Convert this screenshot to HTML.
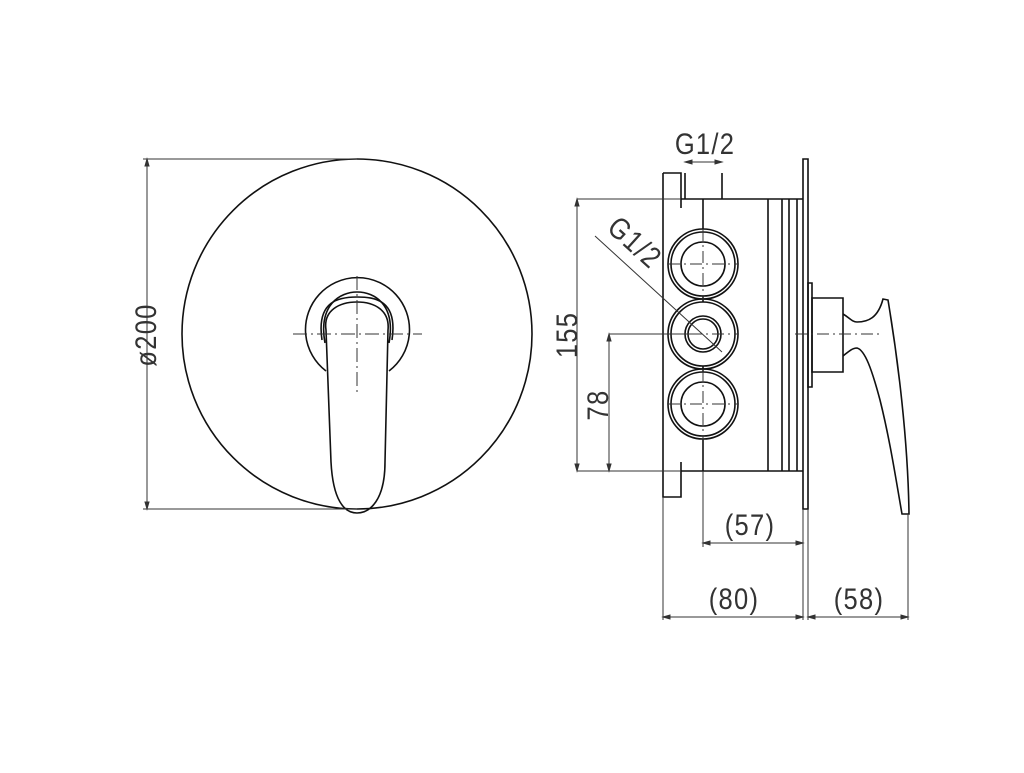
<!DOCTYPE html>
<html><head><style>html,body{margin:0;padding:0;background:#fff}</style></head><body>
<svg width="1024" height="768" viewBox="0 0 1024 768" xmlns="http://www.w3.org/2000/svg" font-family="'Liberation Sans', sans-serif" fill="none" stroke="#111">
<g stroke-width="1.6">
<circle cx="357" cy="334" r="175"/>
<path d="M326 371 A52 52 0 1 1 389 371"/>
<path d="M325 343 C318 305 340 292 357 292 C375 292 396 305 389 343"/>
<path d="M322 340 C316 300 340 297 357 297 C375 297 398 300 392 340"/>
<path d="M326 330 C323 310 340 302 357 302 C374 302 390 310 388 330 L385 462 C385 500 370 513 357 513 C344 513 333 500 331 462 Z"/>
</g>
<g stroke-width="1" stroke="#333">
<path d="M147 159 V509 M143 159 H357 M143 509 H357"/>
<path d="M147 159 l-2 7 h4 z M147 509 l-2 -7 h4 z" fill="#333"/>
<path d="M293 334 H422 M357 276 V396" stroke-dasharray="14 4 2 4"/>
</g>
<text x="0" y="0" transform="translate(156,335) rotate(-90) scale(0.85,1)" font-size="30" letter-spacing="1.5" text-anchor="middle" fill="#333" stroke="none">ø200</text>

<g stroke-width="1.6">
<path d="M663 173 H681 V208 M681 462 V497 H663 V173"/>
<path d="M681 199 H803 M681 471 H803 M685 199 V173 M722 199 V173"/>
<path d="M768 199 V471 M782 199 V471 M789 199 V471 M797 199 V471"/>
<path d="M803 159 H808 V509 H803 Z"/>
<path d="M808 283 H812 V387 H808 Z"/>
<path d="M812 298 H843 V372 H812 Z"/>
<path d="M703 199 V229 M703 439 V471"/>
<circle cx="703" cy="264" r="35"/><circle cx="703" cy="264" r="32"/><circle cx="703" cy="264" r="22"/>
<circle cx="703" cy="334" r="35"/><circle cx="703" cy="334" r="32"/><circle cx="703" cy="334" r="18"/><circle cx="703" cy="334" r="15"/>
<circle cx="703" cy="404" r="35"/><circle cx="703" cy="404" r="32"/><circle cx="703" cy="404" r="22"/>
<path d="M703 296 V302 M703 366 V372"/>
<path d="M843 314 C850 318 852 322 857 322 C868 322 878 318 883 299 L888 300 C898 360 908 440 909 514 L902 514 C896 480 890 440 880 400 C872 370 865 350 857 348 C852 348 848 352 843 356"/>
</g>
<g stroke-width="1" stroke="#333">
<path d="M577 199 H681 M577 471 H681 M577 199 V471 M609 334 H700 M609 334 V471"/>
<path d="M685 162 H722"/>
<path d="M595 236 L722 352"/>
<path d="M663 497 V620 M703 471 V547 M803 509 V620 M808 509 V620 M908 514 V620"/>
<path d="M703 543 H803 M663 617 H803 M808 617 H908"/>
<path d="M668 264 H738 M668 334 H738 M668 404 H738 M703 229 V300 M703 369 V440 M795 334 H880" stroke-dasharray="12 4 2 4"/>
<path d="M577 199 l-2 7 h4 z M577 471 l-2 -7 h4 z M609 334 l-2 7 h4 z M609 471 l-2 -7 h4 z M685 162 l7 -2 v4 z M722 162 l-7 -2 v4 z M703 543 l7 -2 v4 z M803 543 l-7 -2 v4 z M663 617 l7 -2 v4 z M803 617 l-7 -2 v4 z M808 617 l7 -2 v4 z M908 617 l-7 -2 v4 z" fill="#333"/>
</g>
<g fill="#333" stroke="none" font-size="30" letter-spacing="1.5" text-anchor="middle">
<text transform="translate(705,154) scale(0.85,1)">G1/2</text>
<text transform="translate(628,250) rotate(42) scale(0.85,1)">G1/2</text>
<text transform="translate(577,335) rotate(-90) scale(0.85,1)">155</text>
<text transform="translate(608,405) rotate(-90) scale(0.85,1)">78</text>
<text transform="translate(750,535) scale(0.85,1)">(57)</text>
<text transform="translate(734,609) scale(0.85,1)">(80)</text>
<text transform="translate(859,609) scale(0.85,1)">(58)</text>
</g>
</svg>
</body></html>
